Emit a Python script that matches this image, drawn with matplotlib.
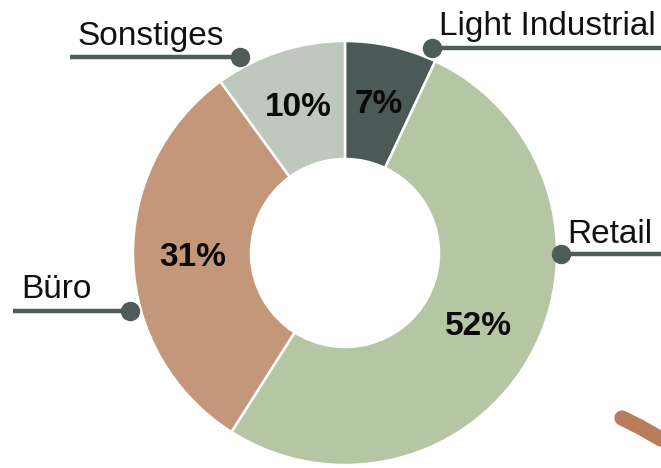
import matplotlib
matplotlib.use("Agg")
import matplotlib.pyplot as plt

plt.rcParams["font.family"] = ["Liberation Sans", "DejaVu Sans"]

# clockwise from 12 o'clock
categories = ["Light Industrial", "Retail", "Büro", "Sonstiges"]
shares = [7, 52, 31, 10]
colors = ["#4b5a56", "#b5c6a5", "#c4967a", "#bfc8bd"]

W, H = 661, 468
fig = plt.figure(figsize=(W / 100, H / 100), dpi=100)
ax = fig.add_axes([0, 0, 1, 1])

cx, cy, r_out, r_in = 345, H - 253, 212, 94

wedges, _, pcts = ax.pie(
    shares, colors=colors, startangle=90, counterclock=False,
    center=(cx, cy), radius=r_out, autopct="%.0f%%", pctdistance=0.72,
    wedgeprops=dict(width=r_out - r_in, edgecolor="white", linewidth=1.8),
    textprops=dict(fontsize=24, fontweight="bold", color="#0a0a0a"),
)

# callout labels: (text x, text baseline y, line x0, line x1, dot x, line y)
callouts = {
    "Light Industrial": (439, 35, 432, 661, 432, 48),
    "Retail":           (567, 243, 561, 661, 561, 254),
    "Büro":             (21, 298, 13, 130, 130, 311),
    "Sonstiges":        (77, 45, 70, 240, 240, 57),
}
line_col = "#4f5d5a"
for name in categories:
    tx, ty, x0, x1, dx, ly = callouts[name]
    ax.plot([x0, x1], [H - ly, H - ly], color=line_col, lw=3.2,
            solid_capstyle="butt", zorder=3)
    ax.plot(dx, H - ly, "o", color=line_col, ms=13, zorder=4)
    ax.text(tx, H - ty, name, fontsize=24, ha="left", va="baseline",
            color="#111111")

# decorative brush stroke bottom right
ax.plot([622, 640, 661], [H - 418, H - 427, H - 439], color="#b97c5b",
        lw=11, solid_capstyle="round")

ax.set_xlim(0, W)
ax.set_ylim(0, H)
ax.set_aspect("equal")
ax.axis("off")

fig.savefig("out.png", dpi=100)
